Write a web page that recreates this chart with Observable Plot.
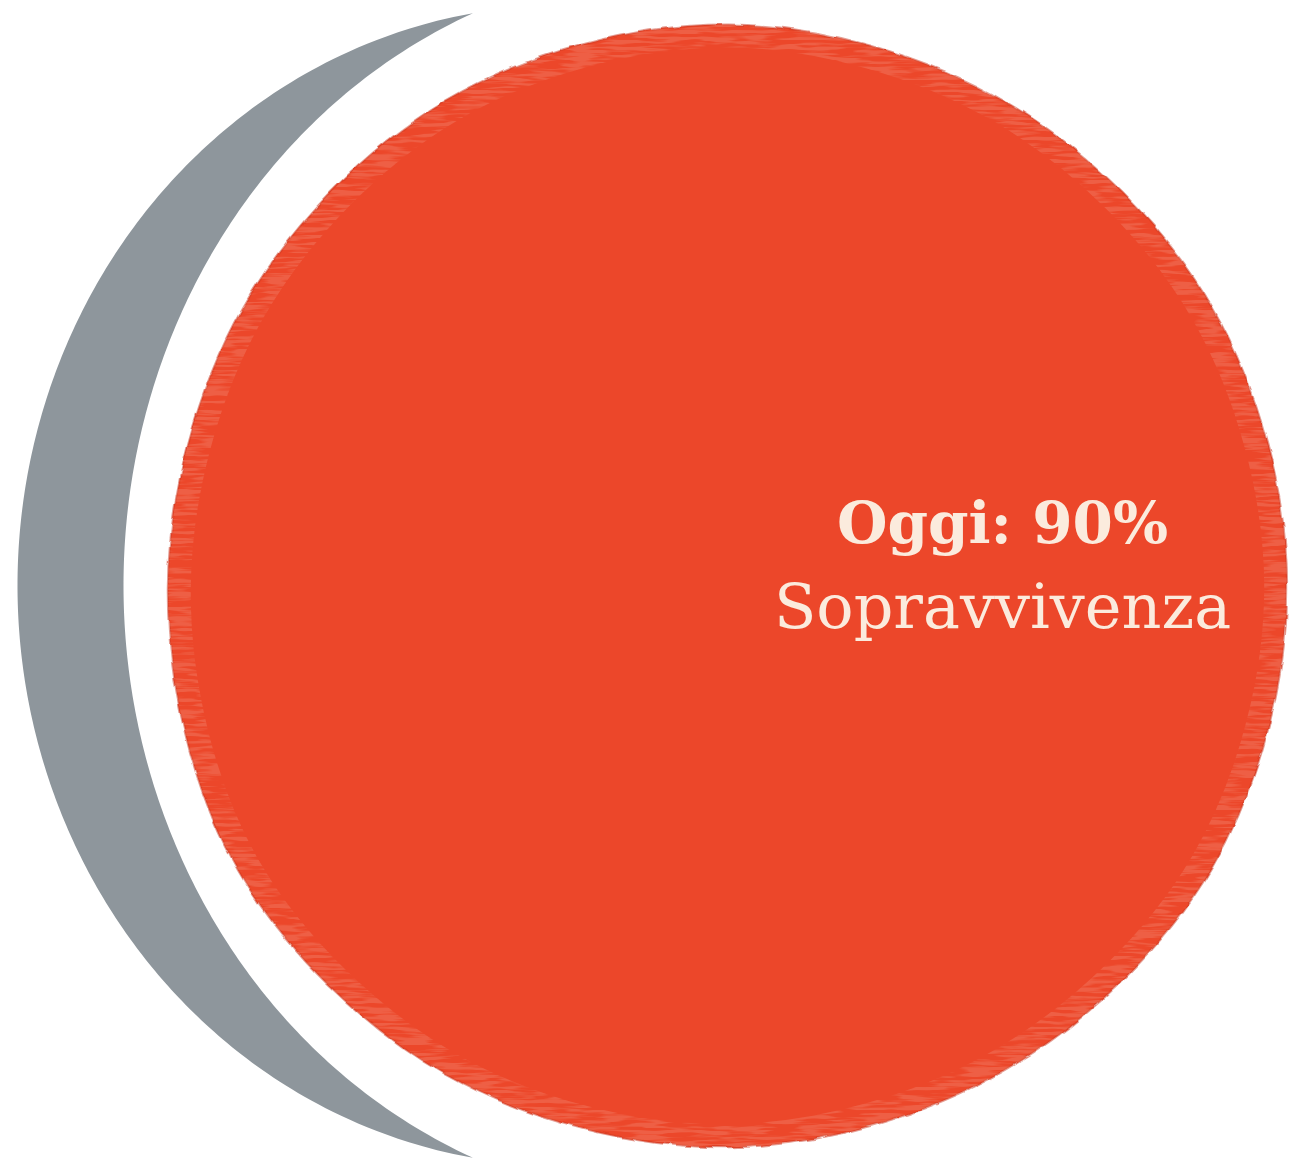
<!DOCTYPE html>
<html>
<head>
<meta charset="utf-8">
<script src="https://cdn.jsdelivr.net/npm/d3@7"></script>
<script src="https://cdn.jsdelivr.net/npm/@observablehq/plot@0.6"></script>
<style>
  html, body { margin: 0; padding: 0; background: #ffffff; }
  #chart svg { display: block; }
</style>
</head>
<body>
<div id="chart"></div>
<script>
// ---- data -------------------------------------------------------------
const segments = ["Sopravvivenza oggi", "Resto"];
const shares = [90, 10];                       // percent
const labelLines = ["Oggi: 90%", "Sopravvivenza"];
// hand-drawn outline of the red disc: radius factor every 30°
const outlineAngles  = [0, 30, 60, 90, 120, 150, 180, 210, 240, 270, 300, 330];
const outlineFactors = [1.0, 1.0, 0.995, 1.0, 1.005, 1.01, 1.0, 1.0, 1.005, 1.006, 1.0, 1.0];

// ---- layout -----------------------------------------------------------
const W = 1291, H = 1161;
const layout = {
  disc:  {x: 727, y: 587},
  ring:  {x: 561, y: 585, a: 544, b: 580},   // outer edge of the grey crescent (ellipse)
  cut:   {x: 691, y: 585, a: 568, b: 620},   // inner edge of the grey crescent (ellipse)
  label: {x: 1002, y: [524, 608]}
};
const colors = {red: "#EC4629", edge: "#C93B27", gray: "#8E969C", text: "#FBEBDD", streak: "#F7B8A4"};

const total = d3.sum(shares);
const rScale = Plot.scale({r: {type: "sqrt", domain: [0, total], range: [0, 590]}});
const discR = rScale.apply(shares[0]);

const outline = outlineAngles.map((a, i) => {
  const t = a * Math.PI / 180;
  return {seg: segments[0],
          x: layout.disc.x + discR * outlineFactors[i] * Math.cos(t),
          y: layout.disc.y + discR * outlineFactors[i] * Math.sin(t)};
});

// crescent = region between the two left half-ellipses
const R = layout.ring, C = layout.cut;
const leftX = (e, y) => e.x - e.a * Math.sqrt(Math.max(0, 1 - ((y - e.y) / e.b) ** 2));
const outerX = y => leftX(R, y), innerX = y => leftX(C, y);
function tip(y0, y1) { // y0: inside crescent, y1: outside
  for (let k = 0; k < 60; k++) {
    const m = (y0 + y1) / 2;
    if (outerX(m) < innerX(m)) y0 = m; else y1 = m;
  }
  return (y0 + y1) / 2;
}
const yTop = tip(R.y, R.y - R.b), yBot = tip(R.y, R.y + R.b);
const ys = d3.range(0, 301).map(i => yTop + (yBot - yTop) * i / 300);
const crescent = [
  ...ys.map(y => ({seg: segments[1], x: outerX(y), y})),
  ...ys.slice().reverse().map(y => ({seg: segments[1], x: innerX(y), y}))
];

const chart = Plot.plot({
  width: W,
  height: H,
  margin: 0,
  x: {domain: [0, W], range: [0, W], axis: null},
  y: {domain: [0, H], range: [0, H], axis: null},
  style: {background: "#ffffff", overflow: "visible"},
  marks: [
    // grey crescent: the remaining 10%
    Plot.line(crescent, {x: "x", y: "y", fill: colors.gray, stroke: "none", curve: "linear"}),
    // red disc: 90%
    Plot.line(outline, {
      x: "x", y: "y", curve: "catmull-rom-closed",
      fill: colors.red, stroke: colors.edge, strokeWidth: 2, strokeOpacity: 0.5,
      className: "disc"
    }),
    // faint pencil streaks near the rim
    Plot.line(outline, {
      x: "x", y: "y", curve: "catmull-rom-closed",
      fill: "none", stroke: colors.streak, strokeWidth: 46, strokeOpacity: 0.22,
      className: "streaks"
    }),
    Plot.text([labelLines[0]], {
      x: () => layout.label.x, y: () => layout.label.y[0], text: d => d,
      fill: colors.text, fontSize: 58, fontWeight: "bold",
      fontFamily: "DejaVu Serif", textAnchor: "middle"
    }),
    Plot.text([labelLines[1]], {
      x: () => layout.label.x, y: () => layout.label.y[1], text: d => d,
      fill: colors.text, fontSize: 62, fontWeight: "normal",
      fontFamily: "DejaVu Serif", textAnchor: "middle"
    })
  ]
});

// pencil-like rough edge + streak texture
const svg = d3.select(chart);
const defs = svg.insert("defs", ":first-child");
const f = defs.append("filter").attr("id", "rough")
  .attr("x", "-5%").attr("y", "-5%").attr("width", "110%").attr("height", "110%");
f.append("feTurbulence").attr("type", "fractalNoise").attr("baseFrequency", "0.05")
  .attr("numOctaves", 2).attr("seed", 4).attr("result", "noise");
f.append("feDisplacementMap").attr("in", "SourceGraphic").attr("in2", "noise")
  .attr("scale", 5).attr("xChannelSelector", "R").attr("yChannelSelector", "G");

const s = defs.append("filter").attr("id", "streak")
  .attr("x", "-10%").attr("y", "-10%").attr("width", "120%").attr("height", "120%");
s.append("feTurbulence").attr("type", "fractalNoise").attr("baseFrequency", "0.03 0.3")
  .attr("numOctaves", 2).attr("seed", 11).attr("result", "n");
s.append("feColorMatrix").attr("in", "n").attr("type", "matrix")
  .attr("values", "0 0 0 0 0  0 0 0 0 0  0 0 0 0 0  0 0 0 -6 3.4").attr("result", "m");
s.append("feComposite").attr("in", "SourceGraphic").attr("in2", "m").attr("operator", "in");

const discPath = svg.select(".disc path");
discPath.attr("filter", "url(#rough)");
defs.append("clipPath").attr("id", "discClip")
  .append("path").attr("d", discPath.attr("d"));
svg.selectAll(".streaks path").attr("filter", "url(#streak)");
svg.selectAll(".streaks").attr("clip-path", "url(#discClip)");

document.getElementById("chart").appendChild(chart);
</script>
</body>
</html>
